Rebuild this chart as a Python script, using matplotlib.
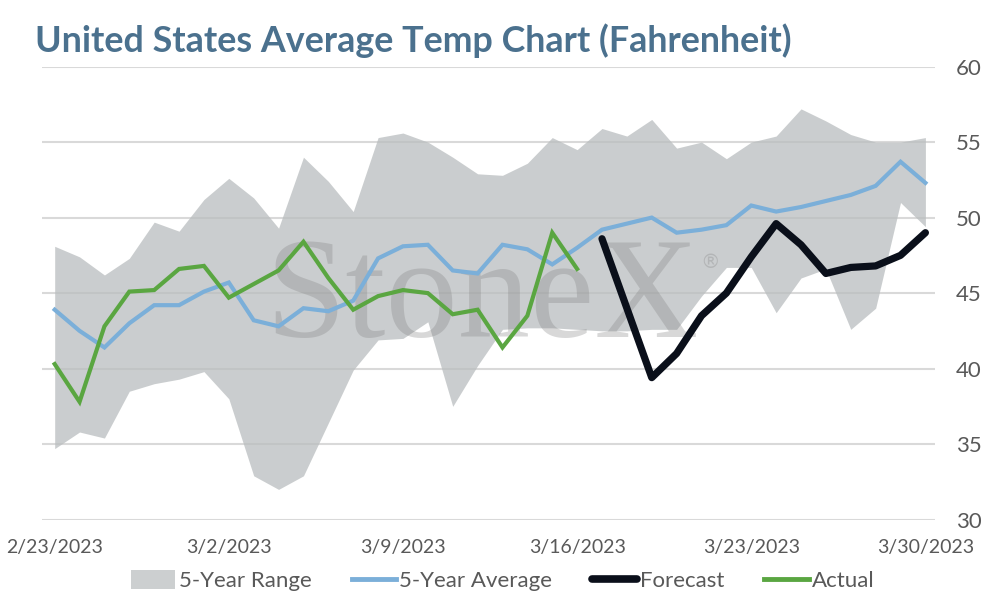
import numpy as np
import pandas as pd
import matplotlib
import matplotlib.pyplot as plt
from matplotlib.patches import Patch
from matplotlib.lines import Line2D
matplotlib.use('Agg')
plt.rcParams['font.family'] = ['Lato', 'DejaVu Sans']

dates = pd.date_range('2023-02-23', '2023-03-30', freq='D')

range_low = [34.7, 35.8, 35.4, 38.5, 39.0, 39.3, 39.8, 38.0, 32.9, 32.0, 32.9, 36.4,
             39.9, 41.9, 42.0, 43.1, 37.5, 40.2, 42.6, 42.7, 42.7, 42.6, 42.5, 42.5,
             42.6, 42.6, 44.8, 46.7, 46.7, 43.7, 46.0, 46.6, 42.6, 44.0, 51.0, 49.4]
range_high = [48.1, 47.4, 46.2, 47.3, 49.7, 49.1, 51.2, 52.6, 51.3, 49.3, 54.0, 52.4,
              50.4, 55.3, 55.6, 55.0, 54.0, 52.9, 52.8, 53.6, 55.3, 54.5, 55.9, 55.4,
              56.5, 54.6, 55.0, 53.9, 55.0, 55.4, 57.2, 56.4, 55.5, 55.0, 55.0, 55.3]
avg_5yr = [43.9, 42.5, 41.4, 43.0, 44.2, 44.2, 45.1, 45.7, 43.2, 42.8, 44.0, 43.8,
           44.5, 47.3, 48.1, 48.2, 46.5, 46.3, 48.2, 47.9, 46.9, 48.0, 49.2, 49.6,
           50.0, 49.0, 49.2, 49.5, 50.8, 50.4, 50.7, 51.1, 51.5, 52.1, 53.7, 52.3]
actual = [40.3, 37.8, 42.8, 45.1, 45.2, 46.6, 46.8, 44.7, 45.6, 46.5, 48.4, 46.0,
          43.9, 44.8, 45.2, 45.0, 43.6, 43.9, 41.4, 43.5, 49.0, 46.6]
forecast = [48.6, 44.0, 39.4, 41.0, 43.5, 45.0, 47.4, 49.6, 48.2, 46.3, 46.7, 46.8,
            47.5, 49.0]

tick_labels = ['2/23/2023', '3/2/2023', '3/9/2023', '3/16/2023', '3/23/2023', '3/30/2023']

BAND = '#B9BDBF'
BLUE = '#7BAFD9'
GREEN = '#5AA641'
BLACK = '#0A0F1A'
TXT = '#595959'

x = np.arange(len(dates))
x_act = x[:len(actual)]
x_fc = x[len(dates) - len(forecast):]

fig = plt.figure(figsize=(9.94, 6.0), dpi=100)
ax = fig.add_axes([0.042, 0.134, 0.899, 0.755])

ax.fill_between(x, range_low, range_high, color=BAND, alpha=0.75, lw=0, zorder=2)
# watermark
ax.text(17.2, 42.1, 'StoneX', family='Liberation Serif', fontsize=104, color='#808080',
        alpha=0.3, ha='center', va='baseline', zorder=3)
ax.text(26.35, 47.0, '®', family='DejaVu Sans', fontsize=14, color='#808080',
        alpha=0.3, ha='center', va='center', zorder=3)

ax.plot(x, avg_5yr, color=BLUE, lw=3.0, zorder=4, solid_joinstyle='miter')
ax.plot(x_act, actual, color=GREEN, lw=3.0, zorder=5, solid_joinstyle='miter')
ax.plot(x_fc, forecast, color=BLACK, lw=5.2, zorder=6, solid_capstyle='round')

ax.set_xlim(-0.52, 35.4)
ax.set_ylim(30, 60)
ax.set_yticks(range(30, 61, 5))
ax.set_xticks(x[::7])
ax.set_xticklabels(tick_labels)
ax.yaxis.tick_right()
ax.grid(axis='y', color='#D9D9D9', lw=1.5, zorder=1)
ax.set_axisbelow(True)
ax.tick_params(axis='both', length=0, labelcolor=TXT)
ax.tick_params(axis='y', pad=15, labelsize=16)
ax.tick_params(axis='x', pad=14, labelsize=14)
for s in ax.spines.values():
    s.set_visible(False)

fig.text(0.035, 0.933, 'United States Average Temp Chart (Fahrenheit)', fontsize=25.8,
         fontweight='bold', color='#4B718E', va='center', ha='left')

handles = [Patch(color='#CCCFD0', lw=0),
           Line2D([], [], color=BLUE, lw=3.5),
           Line2D([], [], color=BLACK, lw=5.5, solid_capstyle='round'),
           Line2D([], [], color=GREEN, lw=3.5)]
labels = ['5-Year Range', '5-Year Average', 'Forecast', 'Actual']
fig.legend(handles, labels, loc='center', bbox_to_anchor=(0.506, 0.032), ncol=4,
           frameon=False, fontsize=16, labelcolor=TXT, handlelength=2.0,
           handletextpad=0.15, columnspacing=1.8, handleheight=0.9)

fig.savefig('out.png', dpi=100)
